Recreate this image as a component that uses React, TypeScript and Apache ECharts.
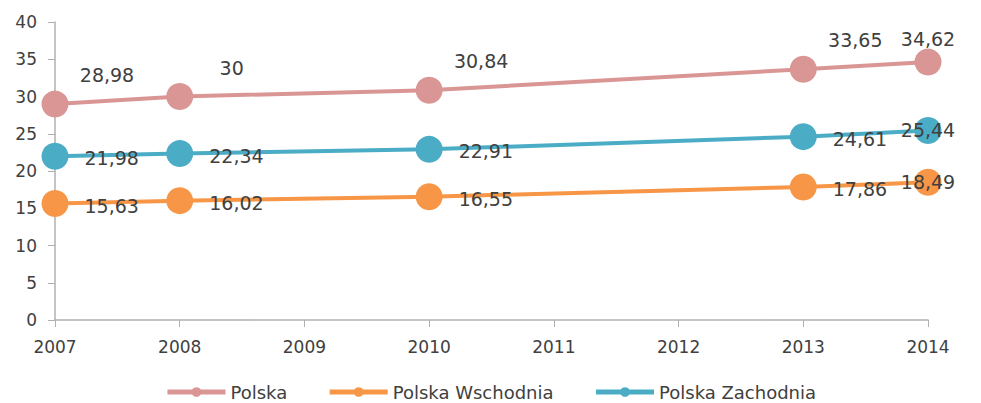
import React, { useEffect, useRef } from "react";
import * as echarts from "echarts";

const years = [2007, 2008, 2010, 2013, 2014];
const seriesNames = ["Polska", "Polska Wschodnia", "Polska Zachodnia"];
const polska = [28.98, 30, 30.84, 33.65, 34.62];
const wschodnia = [15.63, 16.02, 16.55, 17.86, 18.49];
const zachodnia = [21.98, 22.34, 22.91, 24.61, 25.44];
const colors = ["#D99694", "#F79646", "#4BACC6"];

const fmt = (v: number) => String(v).replace(".", ",");
const FONT = "'DejaVu Sans', 'Noto Sans', sans-serif";

export default function App() {
  const ref = useRef<HTMLDivElement>(null);
  useEffect(() => {
    if (!ref.current) return;
    const chart = echarts.init(ref.current, undefined, { renderer: "svg" });
    const labelBase = {
      show: true,
      color: "#404040",
      fontSize: 19,
      fontFamily: FONT,
      formatter: (p: any) => fmt(p.value[1]),
    };
    const makeData = (vals: number[], top: boolean) =>
      vals.map((v, i) => {
        const item: any = { value: [years[i], v] };
        if (i === vals.length - 1) {
          item.label = top
            ? { position: "top", distance: 0, offset: [0, 0] }
            : { position: "inside", offset: [0, 0] };
        }
        return item;
      });
    const allVals = [polska, wschodnia, zachodnia];
    chart.setOption({
      animation: false,
      textStyle: { fontFamily: FONT },
      color: colors,
      grid: { left: 47, right: 45, top: 14, bottom: 83 },
      legend: {
        bottom: -3,
        left: "center",
        itemWidth: 58,
        itemHeight: 12,
        itemGap: 40,
        lineStyle: { width: 5 },
        textStyle: { color: "#404040", fontSize: 18, fontFamily: FONT },
        data: seriesNames,
      },
      xAxis: {
        type: "value",
        min: 2007,
        max: 2014,
        interval: 1,
        axisLine: { lineStyle: { color: "#B0B0B0", width: 1.5 } },
        axisTick: { show: true, length: 7, lineStyle: { color: "#B0B0B0" } },
        axisLabel: {
          color: "#404040",
          fontSize: 17,
          margin: 18,
          formatter: (v: number) => String(v),
        },
        splitLine: { show: false },
      },
      yAxis: {
        type: "value",
        min: 0,
        max: 40,
        interval: 5,
        axisLine: { show: true, lineStyle: { color: "#B0B0B0", width: 1.5 } },
        axisTick: { show: true, length: 7, lineStyle: { color: "#B0B0B0" } },
        axisLabel: { color: "#404040", fontSize: 17, margin: 18 },
        splitLine: { show: false },
      },
      series: seriesNames.map((name, si) => ({
        name,
        type: "line",
        data: makeData(allVals[si], si === 0),
        symbol: "circle",
        symbolSize: 27,
        lineStyle: { width: 4, color: colors[si] },
        itemStyle: { color: colors[si] },
        label:
          si === 0
            ? { ...labelBase, position: "top", distance: 0, offset: [52, -6] }
            : { ...labelBase, position: "right", distance: 16, offset: [0, 2] },
        z: si === 0 ? 2 : 3,
      })),
    });
    return () => chart.dispose();
  }, []);
  return <div ref={ref} style={{ width: 965, height: 395 }} />;
}
